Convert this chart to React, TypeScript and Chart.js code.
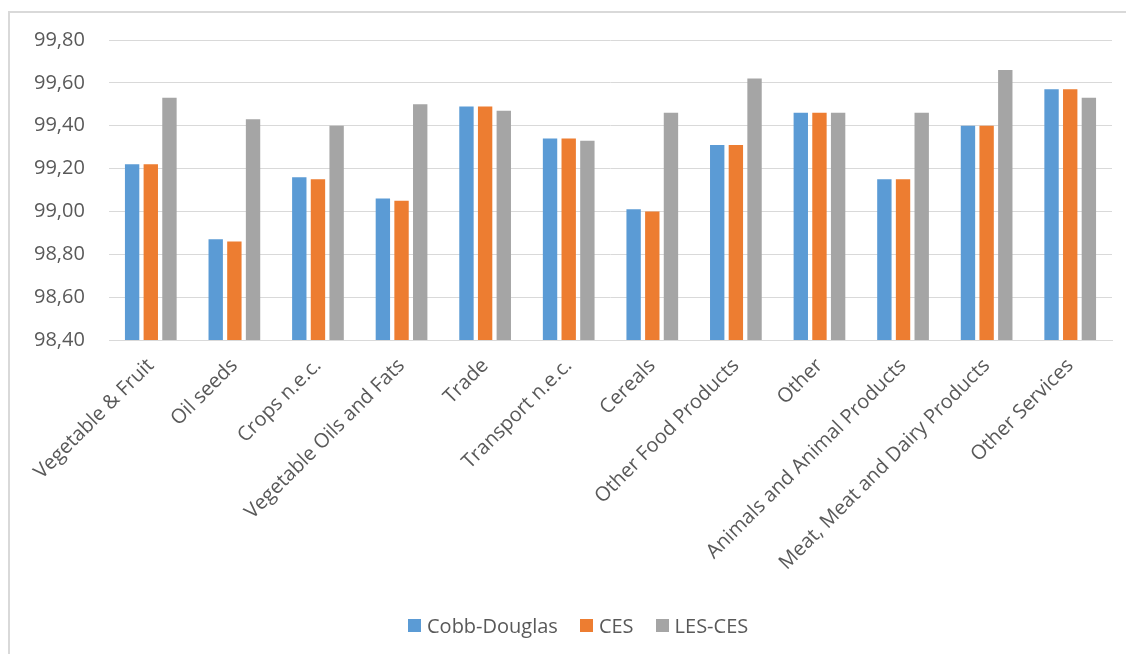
import React, { useEffect, useRef } from "react";
import { Chart, registerables } from "chart.js";

Chart.register(...registerables);

const categories = [
  "Vegetable & Fruit",
  "Oil seeds",
  "Crops n.e.c.",
  "Vegetable Oils and Fats",
  "Trade",
  "Transport n.e.c.",
  "Cereals",
  "Other Food Products",
  "Other",
  "Animals and Animal Products",
  "Meat, Meat and Dairy Products",
  "Other Services",
];

const cobbDouglas = [99.22, 98.87, 99.16, 99.06, 99.49, 99.34, 99.01, 99.31, 99.46, 99.15, 99.4, 99.57];
const ces = [99.22, 98.86, 99.15, 99.05, 99.49, 99.34, 99.0, 99.31, 99.46, 99.15, 99.4, 99.57];
const lesCes = [99.53, 99.43, 99.4, 99.5, 99.47, 99.33, 99.46, 99.62, 99.46, 99.46, 99.66, 99.53];

const seriesNames = ["Cobb-Douglas", "CES", "LES-CES"];
const seriesColors = ["#5B9BD5", "#ED7D31", "#A5A5A5"];

const yMin = 98.4;
const yMax = 99.8;
const yStep = 0.2;

const FONT = "'Open Sans', 'DejaVu Sans', sans-serif";
const TEXT = "#595959";
const GRID = "#d9d9d9";

export default function App() {
  const canvasRef = useRef<HTMLCanvasElement | null>(null);

  useEffect(() => {
    const canvas = canvasRef.current;
    if (!canvas) return;
    const values = [cobbDouglas, ces, lesCes];
    const chart = new Chart(canvas, {
      type: "bar",
      data: {
        labels: categories,
        datasets: seriesNames.map((name, i) => ({
          label: name,
          data: values[i],
          backgroundColor: seriesColors[i],
          borderWidth: 0,
          categoryPercentage: 0.67,
          barPercentage: 0.77,
        })),
      },
      options: {
        animation: false,
        responsive: true,
        maintainAspectRatio: false,
        layout: { padding: { top: 29, right: 14, bottom: 50, left: 26 } },
        plugins: {
          tooltip: { enabled: false },
          legend: { display: false },
        },
        scales: {
          x: {
            grid: { display: false, drawTicks: false },
            border: { display: true, color: GRID, width: 1 },
            ticks: {
              color: TEXT,
              font: { family: FONT, size: 20 },
              minRotation: 45,
              maxRotation: 45,
              autoSkip: false,
              padding: 14,
            },
            afterFit: (scale: any) => {
              scale.height = 264;
            },
          },
          y: {
            min: yMin,
            max: yMax,
            grid: { color: GRID, lineWidth: 1, drawTicks: false },
            border: { display: false },
            ticks: {
              stepSize: yStep,
              color: TEXT,
              font: { family: FONT, size: 20 },
              padding: 0,
              crossAlign: "far",
              callback: (v: any) => Number(v).toFixed(2).replace(".", ","),
            },
            afterFit: (scale: any) => {
              scale.width = 75;
            },
          },
        },
      },
    });
    return () => chart.destroy();
  }, []);

  return (
    <>
      <div
        style={{
          position: "absolute",
          left: 8,
          top: 11,
          width: 1118,
          height: 643,
          boxSizing: "border-box",
          borderLeft: `2px solid ${GRID}`,
          borderTop: `2px solid ${GRID}`,
        }}
      />
      <div style={{ position: "absolute", left: 8, top: 11, width: 1118, height: 643 }}>
        <canvas ref={canvasRef} />
      </div>
      <div
        style={{
          position: "absolute",
          left: 408,
          top: 611,
          height: 28,
          display: "flex",
          alignItems: "center",
          gap: 22,
          fontFamily: FONT,
          fontSize: 20,
          color: TEXT,
          whiteSpace: "nowrap",
        }}
      >
        {seriesNames.map((name, i) => (
          <div key={name} style={{ display: "flex", alignItems: "center" }}>
            <span
              style={{
                display: "inline-block",
                width: 13,
                height: 13,
                background: seriesColors[i],
                marginRight: 6,
              }}
            />
            <span>{name}</span>
          </div>
        ))}
      </div>
    </>
  );
}
